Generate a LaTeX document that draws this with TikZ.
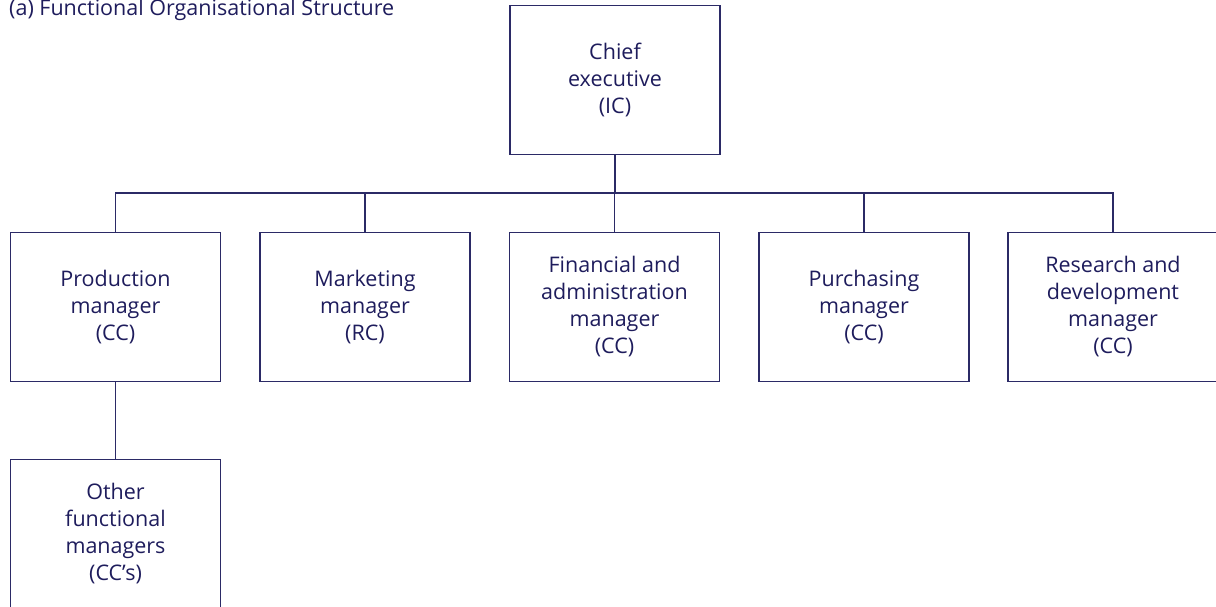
\documentclass[tikz,border=0pt]{standalone}
\usepackage{fontspec}
\setmainfont{Open Sans}
\definecolor{navy}{HTML}{2B2A66}
\definecolor{navytext}{HTML}{1E1C5C}
\begin{document}
\begin{tikzpicture}[x=1pt,y=-1pt,
  box/.style={draw=navy,line width=1.3pt,minimum width=210pt,minimum height=149pt,
    align=center,text=navytext,font=\fontsize{21.5}{27}\selectfont,inner sep=0pt},
  conn/.style={draw=navy,line width=1.3pt}]
\useasboundingbox (0,0) rectangle (1216,606);
\clip (0,0) rectangle (1216,606);
\node[anchor=base west,text=navytext,font=\fontsize{21.5}{27}\selectfont,inner sep=0pt] (title) at (9,15) {(a) Functional Organisational Structure};
\node[box] (ce) at (615,80) {Chief\\executive\\(IC)};
\node[box] (prod) at (115.5,307) {Production\\manager\\(CC)};
\node[box] (mkt) at (365,307) {Marketing\\manager\\(RC)};
\node[box] (fin) at (614.5,307) {Financial and\\administration\\manager\\(CC)};
\node[box] (pur) at (864,307) {Purchasing\\manager\\(CC)};
\node[box] (rd) at (1113,307) {Research and\\development\\manager\\(CC)};
\node[box] (oth) at (115.5,534) {Other\\functional\\managers\\(CC’s)};
\coordinate (bus) at (615,193);
\draw[conn] (ce.south) -- (ce.south |- bus);
\draw[conn] (prod.north) -- (prod.north |- bus) -- (rd.north |- bus) -- (rd.north);
\draw[conn] (mkt.north) -- (mkt.north |- bus);
\draw[conn] (fin.north) -- (fin.north |- bus);
\draw[conn] (pur.north) -- (pur.north |- bus);
\draw[conn] (prod.south) -- (oth.north);
\end{tikzpicture}
\end{document}
